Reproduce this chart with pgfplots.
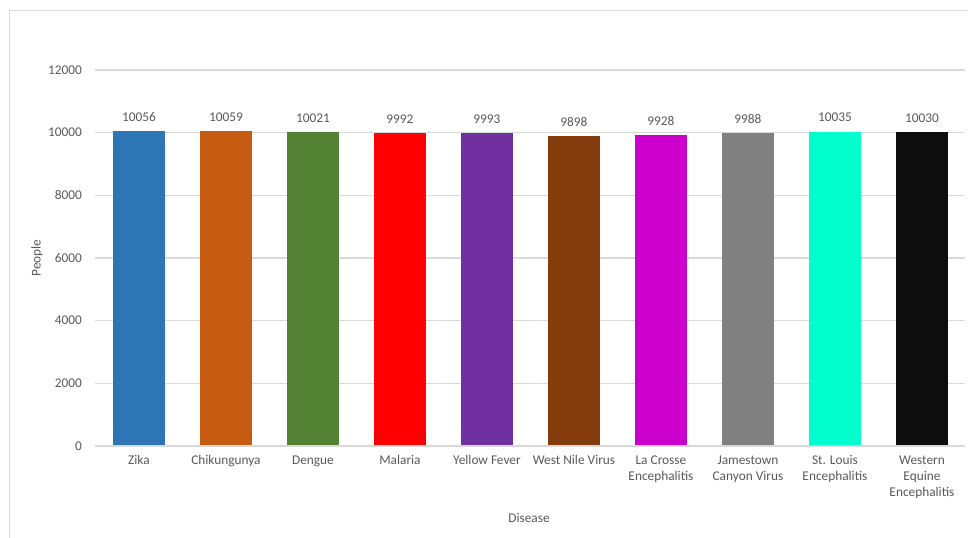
\documentclass[border=0pt]{standalone}
\usepackage{pgfplots}
\pgfplotsset{compat=1.18}
\usepackage{fontspec}
\setmainfont{Carlito}
\definecolor{txt}{HTML}{595959}
\definecolor{gridgray}{HTML}{D9D9D9}
\definecolor{cZika}{HTML}{2E75B6}
\definecolor{cChik}{HTML}{C55A11}
\definecolor{cDeng}{HTML}{548235}
\definecolor{cMal}{HTML}{FF0000}
\definecolor{cYF}{HTML}{7030A0}
\definecolor{cWNV}{HTML}{843C0C}
\definecolor{cLaC}{HTML}{CC00CC}
\definecolor{cJam}{HTML}{808080}
\definecolor{cSLE}{HTML}{00FFCC}
\definecolor{cWEE}{HTML}{0D0D0D}
\begin{document}
\begin{tikzpicture}[x=1pt,y=1pt]
% page extent and chart frame
\path[use as bounding box] (0,0) rectangle (726,403.5);
\draw[draw=gridgray, line width=0.8pt] (7.1,0) -- (7.1,395.6) -- (726,395.6);
\begin{axis}[
  at={(71.6pt,69pt)}, anchor=south west,
  scale only axis, width=652.5pt, height=282pt,
  ybar, bar width=39pt,
  xmin=-0.5, xmax=9.5, ymin=0, ymax=12000,
  ytick={0,2000,...,12000},
  xtick={0,...,9},
  xticklabels={Zika, Chikungunya, Dengue, Malaria, Yellow Fever, West Nile Virus,
    {La Crosse\\Encephalitis}, {Jamestown\\Canyon Virus}, {St. Louis\\Encephalitis},
    {Western\\Equine\\Encephalitis}},
  scaled y ticks=false,
  /pgf/number format/1000 sep={},
  /pgf/number format/assume math mode=true,
  axis line style={draw=none},
  ymajorgrids, xmajorgrids=false,
  major grid style={draw=gridgray, line width=0.8pt},
  major tick length=0pt,
  tick style={draw=none},
  ticklabel style={font=\fontsize{10}{12}\selectfont, text=txt},
  xticklabel style={align=center, anchor=north, inner sep=0pt, yshift=-7pt},
  yticklabel style={anchor=east, inner sep=0pt, xshift=-10pt},
  nodes near coords,
  every node near coord/.append style={font=\fontsize{10}{12}\selectfont, text=txt,
    anchor=south, inner sep=0pt, yshift=7pt,
    /pgf/number format/fixed, /pgf/number format/precision=0},
  every axis plot/.append style={bar shift=0pt, draw=none},
  clip=false,
]
\addplot[fill=cZika] coordinates {(0,10056)};
\addplot[fill=cChik] coordinates {(1,10059)};
\addplot[fill=cDeng] coordinates {(2,10021)};
\addplot[fill=cMal]  coordinates {(3,9992)};
\addplot[fill=cYF]   coordinates {(4,9993)};
\addplot[fill=cWNV]  coordinates {(5,9898)};
\addplot[fill=cLaC]  coordinates {(6,9928)};
\addplot[fill=cJam]  coordinates {(7,9988)};
\addplot[fill=cSLE]  coordinates {(8,10035)};
\addplot[fill=cWEE]  coordinates {(9,10030)};
% baseline
\draw[draw=gridgray, line width=0.8pt] (axis cs:-0.5,0) -- (axis cs:9.5,0);
\end{axis}
\node[text=txt, font=\fontsize{10}{12}\selectfont, rotate=90] at (27.75,210) {People};
\node[text=txt, font=\fontsize{10}{12}\selectfont] at (396.75,15) {Disease};
\end{tikzpicture}
\end{document}
